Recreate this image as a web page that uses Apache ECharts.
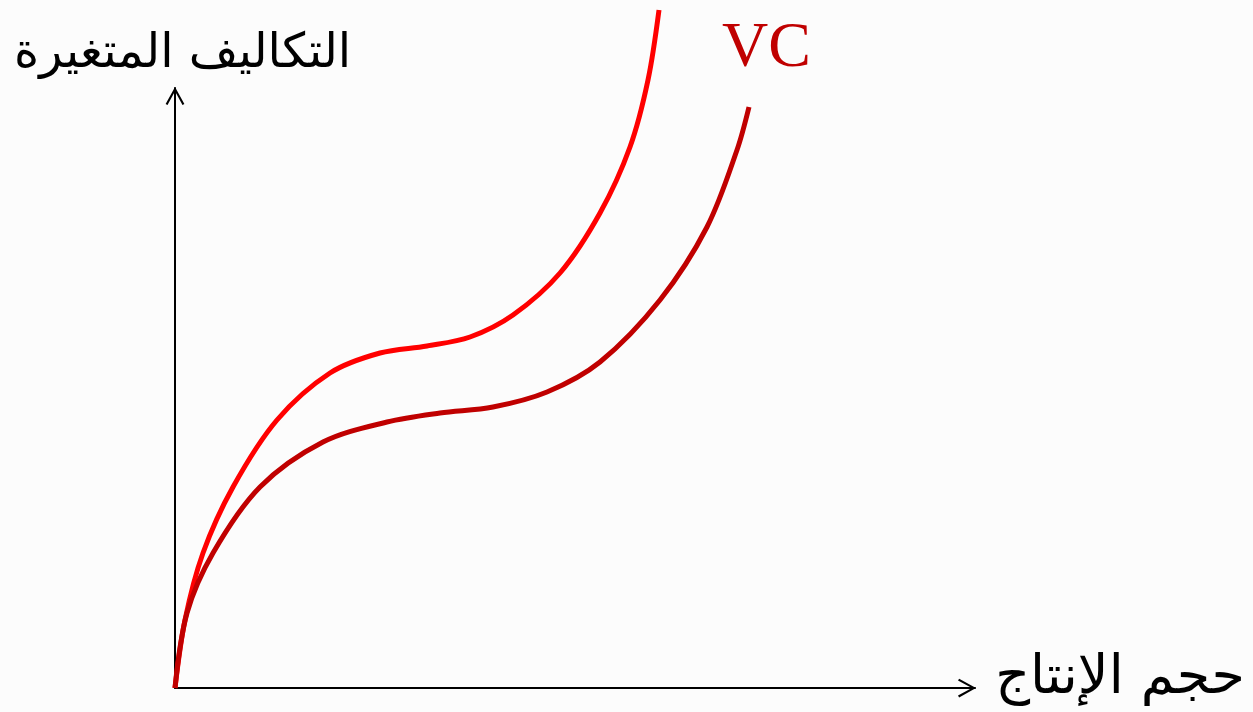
<!DOCTYPE html>
<html>
<head>
<meta charset="utf-8">
<script src="https://cdn.jsdelivr.net/npm/echarts@6/dist/echarts.min.js"></script>
<style>
  html, body { margin: 0; padding: 0; background: #fcfcfc; }
  #chart { width: 1253px; height: 712px; }
</style>
</head>
<body>
<div id="chart"></div>
<script>
// points (output, cost)
const upperCurve = [
  [0, 0], [10, 68], [28, 135], [58, 201], [102, 268], [155, 315], [205, 335],
  [252, 342], [295, 351], [338, 373], [385, 415], [425, 475], [455, 541],
  [473, 608], [484, 678]
]
const lowerCurve = [
  [0, 0], [12, 75], [38, 135], [85, 201], [148, 246], [212, 266], [265, 275],
  [318, 281], [372, 296], [425, 326], [485, 388], [532, 461], [562, 538], [574, 581]
]
const yTitle = 'التكاليف المتغيرة'
const xTitle = 'حجم الإنتاج'
const curveName = 'VC'

const chart = echarts.init(document.getElementById('chart'))

// open arrow head like the original axes
const arrow = 'path://M5,0 L10,9 L9,9.6 L5,2.2 L1,9.6 L0,9 Z'
const axisLine = {
  show: true,
  symbol: ['none', arrow],
  symbolSize: [20, 18],
  symbolOffset: [0, -8],
  lineStyle: { color: '#000', width: 2 }
}

const option = {
  backgroundColor: '#fcfcfc',
  animation: false,
  grid: { left: 175, top: 88, width: 800, height: 600 },
  xAxis: {
    type: 'value', min: 0, max: 800,
    axisLine: axisLine,
    axisTick: { show: false }, axisLabel: { show: false }, splitLine: { show: false }
  },
  yAxis: {
    type: 'value', min: 0, max: 600,
    axisLine: axisLine,
    axisTick: { show: false }, axisLabel: { show: false }, splitLine: { show: false }
  },
  series: [
    {
      type: 'line', data: upperCurve, smooth: 0.33, showSymbol: false, clip: false,
      lineStyle: { color: '#ff0000', width: 5 }, z: 3
    },
    {
      name: curveName,
      type: 'line', data: lowerCurve, smooth: 0.33, showSymbol: false, clip: false,
      lineStyle: { color: '#c00000', width: 5 }, z: 3
    }
  ],
  graphic: [
    {
      type: 'text', left: 14, top: 31,
      style: { text: yTitle, fontSize: 48, fill: '#000', fontFamily: 'DejaVu Sans' }
    },
    {
      type: 'text', right: 8, top: 652,
      style: { text: xTitle, fontSize: 54, fill: '#000', fontFamily: 'DejaVu Sans' }
    },
    {
      type: 'text', left: 722, top: 17,
      style: { text: curveName, fontSize: 64, fill: '#c00000', fontFamily: 'Liberation Serif' }
    }
  ]
}

chart.setOption(option)
</script>
</body>
</html>
